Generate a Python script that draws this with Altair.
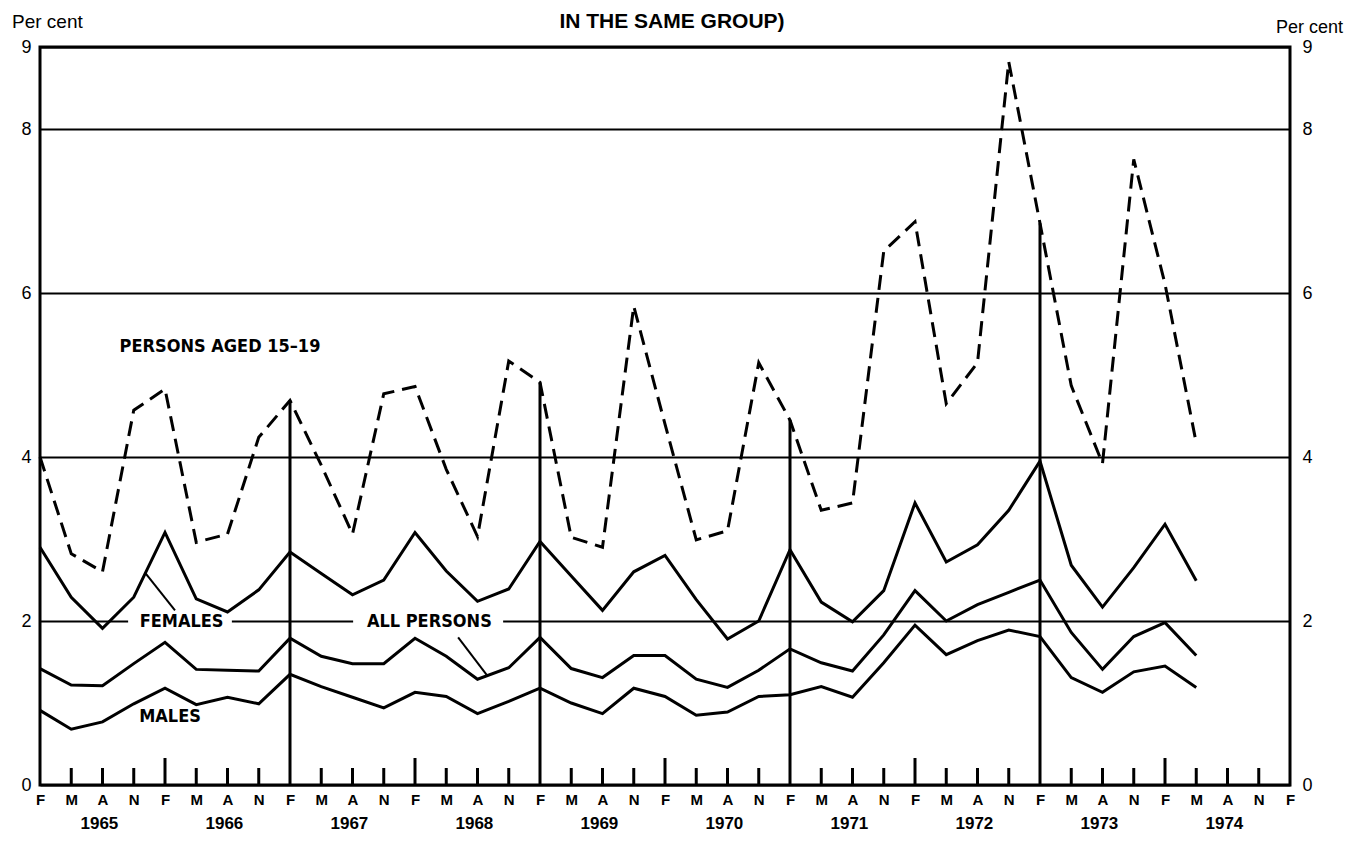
import json
import altair as alt
import pandas as pd

# ---------------- data ----------------
month_letters = ["F", "M", "A", "N"] * 10 + ["F"]
year_labels = ["1965", "1966", "1967", "1968", "1969", "1970", "1971", "1972", "1973", "1974"]

aged_15_19 = [4.00, 2.82, 2.60, 4.57, 4.83, 2.96, 3.06, 4.24, 4.69, 3.90,
              3.06, 4.77, 4.86, 3.85, 3.03, 5.17, 4.91, 3.02, 2.90, 5.84,
              4.40, 2.99, 3.10, 5.15, 4.45, 3.35, 3.44, 6.51, 6.87, 4.65,
              5.15, 8.82, 6.85, 4.87, 3.92, 7.63, 6.11, 4.17]
females = [2.90, 2.29, 1.91, 2.29, 3.08, 2.27, 2.11, 2.38, 2.84, 2.58,
           2.32, 2.50, 3.08, 2.61, 2.24, 2.39, 2.97, 2.55, 2.13, 2.60,
           2.80, 2.26, 1.78, 2.00, 2.87, 2.23, 1.99, 2.37, 3.44, 2.72,
           2.93, 3.35, 3.95, 2.68, 2.17, 2.65, 3.18, 2.49]
all_persons = [1.42, 1.22, 1.21, 1.48, 1.74, 1.41, 1.40, 1.39, 1.79, 1.57,
               1.48, 1.48, 1.79, 1.57, 1.29, 1.43, 1.80, 1.42, 1.31, 1.58,
               1.58, 1.29, 1.19, 1.40, 1.66, 1.49, 1.39, 1.83, 2.37, 2.00,
               2.20, 2.35, 2.50, 1.86, 1.41, 1.81, 1.98, 1.58]
males = [0.91, 0.68, 0.77, 0.99, 1.18, 0.98, 1.07, 0.99, 1.35, 1.20,
         1.07, 0.94, 1.13, 1.08, 0.87, 1.02, 1.18, 1.00, 0.87, 1.18,
         1.08, 0.85, 0.89, 1.08, 1.10, 1.20, 1.07, 1.49, 1.95, 1.59,
         1.76, 1.89, 1.81, 1.31, 1.13, 1.38, 1.45, 1.19]

y_label_values = [0, 2, 4, 6, 8, 9]

# series labels (text, x index, value)
label_texts = ["PERSONS AGED 15–19", "FEMALES", "ALL PERSONS", "MALES"]
label_x = [5.76, 4.53, 12.46, 4.16]
label_y = [5.34, 1.99, 1.99, 0.83]

# gaps in the 2 % line behind labels
gap_x = [2.82, 10.02]
gap_x2 = [6.14, 14.82]
# leader lines
leader_x = [3.36, 13.38]
leader_y = [2.59, 1.80]
leader_x2 = [4.32, 14.30]
leader_y2 = [2.13, 1.34]

title_text = "IN THE SAME GROUP)"
unit_text = "Per cent"

# ---------------- layout ----------------
W, H = 1250, 738
FONT = "Liberation Sans, Arial, sans-serif"
COND = "DejaVu Sans Condensed, Liberation Sans Narrow, Arial Narrow, sans-serif"

n = len(aged_15_19)
idx = list(range(n))

solid_df = pd.DataFrame({
    "i": idx * 3,
    "value": females + all_persons + males,
    "series": ["Females"] * n + ["All persons"] * n + ["Males"] * n,
})
aged_df = pd.DataFrame({"i": idx, "value": aged_15_19})

n_ticks = len(month_letters)
tick_df = pd.DataFrame({"i": list(range(n_ticks)), "m": month_letters})
tick_df = tick_df[(tick_df.i > 0) & (tick_df.i < n_ticks - 1)]
major = (tick_df.i % 8 == 0)
full_df = aged_df[aged_df.i.isin(tick_df[major].i)].assign(base=0.0)
tick_inner = tick_df[~major]
tick_f = tick_inner[tick_inner.m == "F"]
tick_o = tick_inner[tick_inner.m != "F"]

year_df = pd.DataFrame({"i": [4 * k + 1.9 for k in range(len(year_labels))], "t": year_labels})
label_df = pd.DataFrame({"t": label_texts, "i": label_x, "v": label_y})
gap_df = pd.DataFrame({"i": gap_x, "i2": gap_x2, "v": [1.88] * 2, "v2": [2.12] * 2})
leader_df = pd.DataFrame({"i": leader_x, "v": leader_y, "i2": leader_x2, "v2": leader_y2})

xs = alt.Scale(domain=[0, n_ticks - 1], nice=False, zero=False)
ys = alt.Scale(domain=[0, 9], nice=False)

x_axis = alt.Axis(values=list(range(n_ticks)),
                  labelExpr=json.dumps(month_letters) + "[datum.value]",
                  ticks=False, domain=False, grid=False, title=None,
                  labelFont=FONT, labelFontSize=15, labelFontWeight="bold",
                  labelColor="black", labelPadding=7, labelFlush=False,
                  labelOverlap=False)
left_axis = alt.Axis(orient="left", values=y_label_values, grid=True,
                     gridColor="black", gridWidth=2, gridOpacity=1,
                     domain=False, ticks=False, title=None,
                     labelFont=FONT, labelFontSize=18, labelColor="black",
                     labelPadding=9, labelFlush=False)
right_axis = alt.Axis(orient="right", values=y_label_values, grid=False,
                      domain=False, ticks=False, title=None,
                      labelFont=FONT, labelFontSize=18, labelColor="black",
                      labelPadding=12, labelFlush=False)


def X(field="i"):
    return alt.X(f"{field}:Q", scale=xs, axis=x_axis)


def Y(field, axis=None):
    return alt.Y(f"{field}:Q", scale=ys, axis=axis)


gaps = alt.Chart(gap_df).mark_rect(color="white").encode(
    x=X(), x2="i2", y=Y("v"), y2="v2")

full_lines = alt.Chart(full_df).mark_rule(color="black", strokeWidth=3).encode(
    x=X(), y=Y("value"), y2="base")

ticks_f = alt.Chart(tick_f).mark_rule(color="black", strokeWidth=3).encode(
    x=X(), y=alt.value(H), y2=alt.value(H - 27))
ticks_o = alt.Chart(tick_o).mark_rule(color="black", strokeWidth=3).encode(
    x=X(), y=alt.value(H), y2=alt.value(H - 17))

solid = alt.Chart(solid_df).mark_line(color="black", strokeWidth=3).encode(
    x=X(), y=Y("value", left_axis), detail="series:N")

dashed = alt.Chart(aged_df).mark_line(color="black", strokeWidth=3, strokeDash=[15, 8]).encode(
    x=X(), y=Y("value", right_axis))

leaders = alt.Chart(leader_df).mark_rule(color="black", strokeWidth=2).encode(
    x=X(), x2="i2", y=Y("v"), y2="v2")

labels = alt.Chart(label_df).mark_text(font=COND, fontSize=18, fontWeight="bold",
                                       color="black", baseline="middle").encode(
    x=X(), y=Y("v"), text="t:N")

years = alt.Chart(year_df).mark_text(font=FONT, fontSize=17, fontWeight="bold",
                                     color="black", baseline="middle").encode(
    x=X(), y=alt.value(777), text="t:N")

title = alt.Chart(pd.DataFrame({"t": [title_text]})).mark_text(
    font=FONT, fontSize=21, fontWeight="bold", color="black", baseline="middle").encode(
    x=alt.value(632), y=alt.value(-25), text="t:N")

unit_left = alt.Chart(pd.DataFrame({"t": [unit_text]})).mark_text(
    font=FONT, fontSize=19, color="black", align="left", baseline="middle").encode(
    x=alt.value(-28), y=alt.value(-25), text="t:N")

unit_right = alt.Chart(pd.DataFrame({"t": [unit_text]})).mark_text(
    font=FONT, fontSize=18, color="black", align="right", baseline="middle").encode(
    x=alt.value(1303), y=alt.value(-19), text="t:N")

chart = alt.layer(
    gaps, full_lines, ticks_f, ticks_o, solid, dashed, leaders, labels,
    years, title, unit_left, unit_right
).resolve_scale(y="shared").resolve_axis(y="independent").properties(
    width=W, height=H,
    autosize=alt.AutoSizeParams(type="none"),
    padding={"left": 32, "top": 39, "right": 54, "bottom": 54},
).configure_view(stroke="black", strokeWidth=3)

chart.save("out.html", embed_options={"renderer": "svg", "actions": False})
